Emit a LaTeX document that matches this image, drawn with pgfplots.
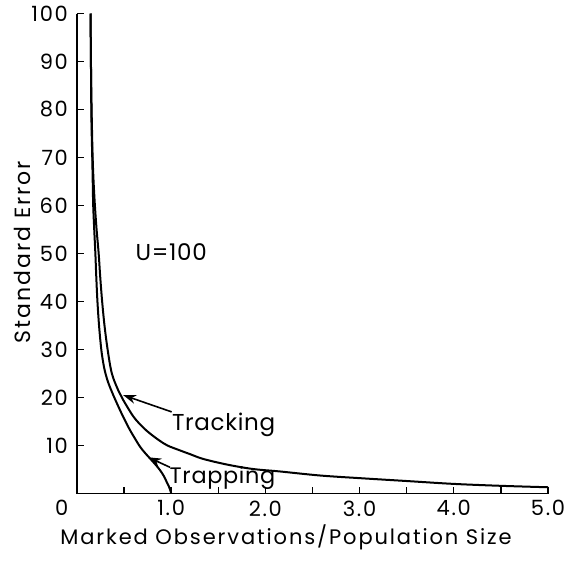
\documentclass[border=0pt]{standalone}
\usepackage{pgfplots}
\pgfplotsset{compat=1.18}
\usepackage{fontspec}
\setmainfont{Poppins}
\newfontfamily\ticf{Poppins}[LetterSpace=8,Numbers=Monospaced]
\newfontfamily\lblf{Poppins}[LetterSpace=9]
\newfontfamily\annf{Poppins}[LetterSpace=3]
\usetikzlibrary{arrows.meta}
\begin{document}
\begin{tikzpicture}
\path[use as bounding box] (-38.5pt,-40.25pt) rectangle (246pt,246.75pt);
\begin{axis}[
  at={(0,0)}, anchor=south west,
  scale only axis,
  width=235.5pt, height=240pt,
  xmin=0, xmax=5, ymin=0, ymax=100,
  axis lines=left,
  axis line style={-, line width=0.8pt},
  tick align=inside,
  major tick length=3.5pt,
  tick style={line width=0.7pt, black},
  xtick={0.5,1,1.5,2,2.5,3,3.5,4,4.5,5},
  xticklabels={,1.0,,2.0,,3.0,,4.0,,5.0},
  extra x ticks={0},
  extra x tick labels={0},
  extra x tick style={major tick length=0pt, xticklabel style={xshift=-7.7pt}},
  ytick={10,20,30,40,50,60,70,80,90,100},
  tick label style={font=\ticf\fontsize{10.5}{11}\selectfont},
  yticklabel style={xshift=-1pt},
  /pgf/number format/assume math mode=true,
  clip=false,
]
\addplot[black, line width=1pt, smooth, tension=0.55] coordinates {
(0.145,100) (0.146,95) (0.148,90) (0.151,85) (0.155,80) (0.16,75) (0.166,70)
(0.176,65) (0.19,60) (0.208,55) (0.23,50) (0.247,45) (0.267,40) (0.292,35)
(0.325,30) (0.37,25) (0.44,21.4) (0.49,19.5) (0.6,16) (0.7,13.8) (0.775,12.5)
(0.87,11.1) (0.96,10.0) (1.09,9.0) (1.2,8.2) (1.34,7.2) (1.6,6.0) (1.87,5.1)
(2.15,4.6) (2.58,3.75) (3.0,3.2) (3.5,2.6) (4.0,2.0) (4.5,1.6) (5.0,1.3)
};
\addplot[black, line width=1pt, smooth, tension=0.55] coordinates {
(0.145,100) (0.146,95) (0.148,90) (0.150,85) (0.152,80) (0.156,75) (0.162,70)
(0.167,65) (0.172,60) (0.183,55) (0.195,50) (0.205,45) (0.217,40) (0.234,35)
(0.255,30.5) (0.272,28) (0.295,25.6) (0.33,23.2) (0.385,20.5) (0.456,17.4) (0.51,15.2)
(0.563,13.2) (0.62,11.3) (0.669,9.75) (0.72,8.5) (0.775,7.3) (0.83,6.1)
(0.88,4.9) (0.92,3.7) (0.95,2.5) (0.975,1.5) (0.99,0.7) (1.0,0)
};
\node[font=\annf\fontsize{11.5}{13}\selectfont] at (axis cs:1.0,50.2) {U=100};
\node[font=\annf\fontsize{11.5}{13}\selectfont, anchor=base west, inner sep=0pt] at (axis cs:1.005,13.2) {Tracking};
\node[font=\annf\fontsize{11.2}{13}\selectfont, anchor=base west, inner sep=0pt] at (axis cs:0.98,2.1) {Trapping};
\draw[-{Stealth[length=6.5pt,width=4.5pt]}, line width=0.8pt] (axis cs:1.005,17.0) -- (axis cs:0.49,20.5);
\draw[-{Stealth[length=6.5pt,width=4.5pt]}, line width=0.8pt] (axis cs:0.987,5.46) -- (axis cs:0.757,7.54);
\end{axis}
\node[font=\lblf\fontsize{11}{12}\selectfont, rotate=90] at (-27.5pt,120.75pt) {Standard Error};
\node[font=\lblf\fontsize{10.5}{12}\selectfont] at (104.5pt,-21.75pt) {Marked Observations/Population Size};
\end{tikzpicture}
\end{document}
